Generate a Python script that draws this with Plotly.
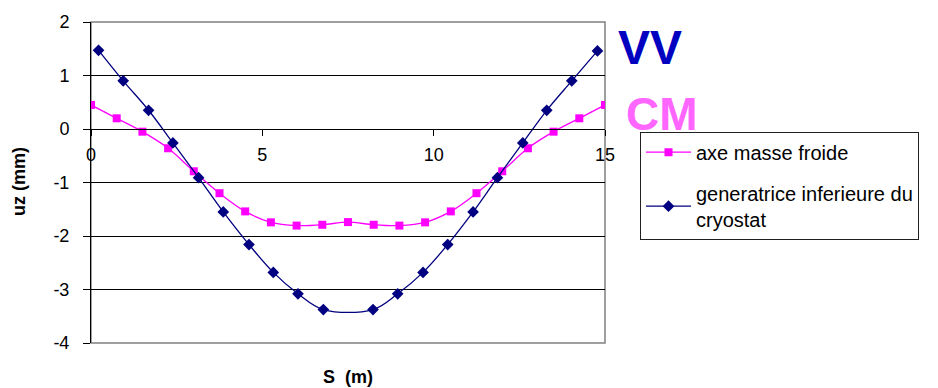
import plotly.graph_objects as go

# Data
s_cm = [0, 0.75, 1.5, 2.25, 3.0, 3.75, 4.5, 5.25, 6.0, 6.75, 7.5,
        8.25, 9.0, 9.75, 10.5, 11.25, 12.0, 12.75, 13.5, 14.25, 15.0]
uz_cm = [0.45, 0.20, -0.05, -0.36, -0.79, -1.20, -1.54, -1.745, -1.805, -1.79, -1.74,
         -1.79, -1.805, -1.745, -1.54, -1.20, -0.79, -0.36, -0.05, 0.20, 0.45]

s_vv = [0.22, 0.94, 1.68, 2.39, 3.14, 3.86, 4.61, 5.32, 6.04, 6.78,
        8.23, 8.95, 9.69, 10.41, 11.15, 11.86, 12.6, 13.3, 14.03, 14.78]
uz_vv = [1.47, 0.90, 0.35, -0.26, -0.91, -1.55, -2.16, -2.68, -3.08, -3.375,
         -3.375, -3.08, -2.68, -2.16, -1.55, -0.91, -0.26, 0.35, 0.90, 1.46]

y_ticks = [2, 1, 0, -1, -2, -3, -4]
x_ticks = [0, 5, 10, 15]

name_cm = "axe masse froide"
name_vv = "generatrice inferieure du<br>cryostat"

W, H = 938, 388
L, R, T, B = 91, 938 - 605, 18, 388 - 343
pw, ph = W - L - R, H - T - B

def px(x):
    return (x - L) / pw

def py(y):
    return (H - B - y) / ph

fig = go.Figure()
fig.add_trace(go.Scatter(
    x=s_cm, y=uz_cm, name=name_cm, mode="lines+markers",
    line=dict(color="#ff00ff", width=1.3, shape="spline"),
    marker=dict(symbol="square", size=8, color="#ff00ff"),
    legendgroup="a",
))
fig.add_trace(go.Scatter(
    x=s_vv, y=uz_vv, name=name_vv, mode="lines+markers",
    line=dict(color="#000080", width=1.3, shape="spline"),
    marker=dict(symbol="diamond", size=9, color="#000080"),
    legendgroup="b",
))

font = dict(family="Liberation Sans, Arial, sans-serif", color="black")

fig.update_layout(
    width=W, height=H,
    margin=dict(l=L, r=R, t=T, b=B, pad=0),
    paper_bgcolor="white", plot_bgcolor="white",
    font=dict(**font, size=18),
    showlegend=True,
    legend=dict(
        x=px(640), y=py(129), xanchor="left", yanchor="top",
        bordercolor="#202020", borderwidth=1, bgcolor="white",
        font=dict(**font, size=20), tracegroupgap=12,
        itemwidth=45,
    ),
    xaxis=dict(
        range=[0, 15], tickvals=x_ticks, ticktext=[str(v) for v in x_ticks],
        showgrid=False, zeroline=False,
        showline=True, linecolor="black", linewidth=1,
        ticks="outside", ticklen=6, tickcolor="black",
        anchor="free", position=4 / 6, ticklabelstandoff=3,
        tickfont=dict(**font, size=18),
    ),
    yaxis=dict(
        range=[-4, 2], tickvals=y_ticks, ticktext=[str(v) for v in y_ticks],
        showgrid=True, gridcolor="black", gridwidth=1,
        zeroline=False,
        showline=True, linecolor="black", linewidth=1,
        ticks="outside", ticklen=7, tickcolor="black",
        ticklabelstandoff=10,
        tickfont=dict(**font, size=18),
    ),
    shapes=[dict(
        type="rect", xref="paper", yref="paper", x0=0, x1=1, y0=0, y1=1,
        line=dict(color="#808080", width=1.5), layer="between",
    )],
    annotations=[
        dict(text="<b>S  (m)</b>", xref="paper", yref="paper",
             x=px(348), y=py(377), showarrow=False,
             font=dict(**font, size=18), xanchor="center", yanchor="middle"),
        dict(text="<b>uz (mm)</b>", xref="paper", yref="paper",
             x=px(19), y=py(180), showarrow=False, textangle=-90,
             font=dict(**font, size=18), xanchor="center", yanchor="middle"),
        dict(text="<b>VV</b>", xref="paper", yref="paper",
             x=px(650), y=py(44), showarrow=False,
             font=dict(family=font["family"], size=48, color="#0000c0"),
             xanchor="center", yanchor="middle"),
        dict(text="<b>CM</b>", xref="paper", yref="paper",
             x=px(662), y=py(111), showarrow=False,
             font=dict(family=font["family"], size=46, color="#ff66ff"),
             xanchor="center", yanchor="middle"),
    ],
)

fig.write_html("out.html")
